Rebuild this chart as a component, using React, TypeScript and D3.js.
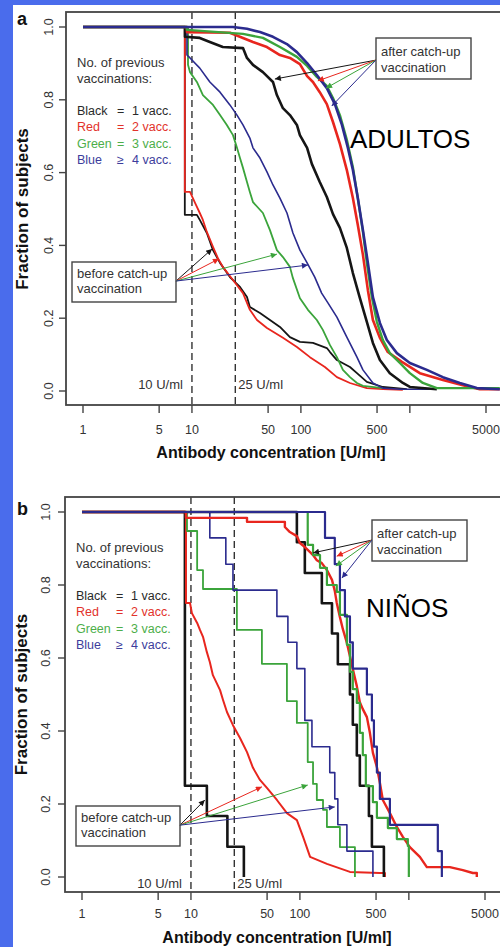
import { useEffect, useRef } from 'react'
import * as d3 from 'd3'

type Pt = [number, number]

// ---------- panel a (ADULTOS): [antibody concentration U/ml, fraction of subjects] ----------
const adultBlackBefore: Pt[] = [[1, 1], [8.6, 1], [8.6, 0.484], [11.1, 0.484], [11.8, 0.47], [13.7, 0.434], [15.6, 0.387], [18.1, 0.352], [22.3, 0.313], [27.6, 0.286], [32, 0.258], [34, 0.231], [42.1, 0.214], [52, 0.195], [64.2, 0.176], [79.3, 0.148], [98, 0.135], [129, 0.132], [173, 0.118], [185, 0.107], [214, 0.085], [282, 0.066], [327, 0.049], [403, 0.025], [565, 0.011], [938, 0.005]]
const adultRedBefore: Pt[] = [[1, 1], [8.6, 1], [8.6, 0.547], [9.6, 0.547], [10.7, 0.516], [11.8, 0.489], [12.6, 0.47], [13.7, 0.437], [15.6, 0.396], [17.3, 0.365], [19.2, 0.341], [23.8, 0.305], [29.4, 0.269], [34, 0.223], [39.5, 0.195], [48.8, 0.173], [68.4, 0.146], [91.9, 0.121], [121, 0.093], [166, 0.066], [214, 0.038], [282, 0.022], [403, 0.008], [565, 0.005], [862, 0.003]]
const adultGreenBefore: Pt[] = [[1, 1], [9.2, 1], [9.2, 0.896], [9.6, 0.876], [11.1, 0.849], [12.6, 0.813], [15.6, 0.786], [18.1, 0.758], [20.9, 0.731], [23.8, 0.703], [25.9, 0.668], [27.6, 0.64], [29.4, 0.613], [32, 0.574], [34, 0.547], [36.3, 0.519], [44.8, 0.489], [52, 0.442], [60.2, 0.387], [68.4, 0.368], [79.3, 0.341], [84.5, 0.31], [98, 0.255], [116, 0.223], [140, 0.195], [159, 0.168], [185, 0.126], [214, 0.093], [243, 0.058], [282, 0.038], [327, 0.022], [371, 0.014], [565, 0.008]]
const adultBlueBefore: Pt[] = [[1, 1], [9, 1], [9, 0.923], [9.6, 0.915], [11.8, 0.887], [14.6, 0.849], [18.1, 0.821], [22.3, 0.786], [25.9, 0.758], [29.4, 0.731], [34, 0.695], [36.3, 0.668], [42.1, 0.64], [48.8, 0.602], [55.4, 0.566], [64.2, 0.53], [74.5, 0.489], [84.5, 0.434], [98, 0.387], [114, 0.352], [134, 0.313], [155, 0.269], [177, 0.242], [214, 0.203], [264, 0.148], [327, 0.093], [371, 0.058], [458, 0.022], [565, 0.008], [809, 0.005], [1525, 0.005]]

const adultBlackAfter: Pt[] = [[1, 1], [8.63, 1], [8.63, 0.973], [11.8, 0.97], [14.6, 0.959], [19.2, 0.945], [29.4, 0.942], [32, 0.915], [36.3, 0.896], [44.8, 0.876], [55.4, 0.849], [60.2, 0.813], [68.4, 0.777], [79.3, 0.758], [91.9, 0.731], [97.9, 0.703], [114, 0.668], [126, 0.624], [149, 0.574], [173, 0.533], [197, 0.486], [228, 0.448], [264, 0.393], [300, 0.324], [348, 0.255], [403, 0.19], [458, 0.132], [531, 0.085], [655, 0.049], [863, 0.022], [1000, 0.011], [1769, 0.005]]
const adultRedAfter: Pt[] = [[1, 1], [9, 1], [9, 0.986], [22.3, 0.984], [29.4, 0.97], [36.3, 0.959], [48.8, 0.945], [64.2, 0.923], [79.3, 0.915], [97.9, 0.898], [114, 0.865], [129, 0.849], [149, 0.821], [173, 0.788], [197, 0.739], [228, 0.679], [264, 0.607], [300, 0.53], [333, 0.456], [371, 0.374], [412, 0.277], [458, 0.195], [531, 0.146], [628, 0.107], [845, 0.08], [1235, 0.049], [2009, 0.03], [3064, 0.016], [4387, 0.005], [6694, 0.005]]
const adultGreenAfter: Pt[] = [[1, 1], [9, 1], [9, 0.992], [29.4, 0.981], [44.8, 0.97], [64.2, 0.945], [91.9, 0.918], [114, 0.893], [140, 0.863], [173, 0.838], [197, 0.805], [228, 0.758], [264, 0.69], [300, 0.615], [333, 0.53], [371, 0.437], [403, 0.352], [448, 0.258], [498, 0.19], [565, 0.14], [655, 0.104], [810, 0.077], [1000, 0.049], [1316, 0.022], [1769, 0.008], [6694, 0.008]]
const adultBlueAfter: Pt[] = [[1, 1], [23.8, 1], [32, 0.995], [42.1, 0.986], [55.4, 0.973], [74.4, 0.953], [91.9, 0.931], [114, 0.901], [140, 0.868], [173, 0.832], [205, 0.788], [238, 0.731], [270, 0.668], [300, 0.607], [333, 0.53], [371, 0.442], [412, 0.352], [458, 0.258], [531, 0.187], [615, 0.14], [760, 0.104], [1000, 0.077], [1432, 0.058], [2009, 0.038], [2876, 0.022], [4119, 0.008], [6694, 0.005]]

// ---------- panel b (NIÑOS) ----------
const kidBlackBefore: Pt[] = [[1, 1], [8.8, 0.25], [14, 0.167], [21.6, 0.083], [30.6, 0]]
const kidRedBefore: Pt[] = [[1, 1], [9, 1], [9, 0.751], [9.8, 0.751], [10.2, 0.723], [11.4, 0.696], [12.1, 0.677], [12.9, 0.658], [14, 0.616], [14.9, 0.589], [15.9, 0.553], [18.5, 0.512], [19.7, 0.485], [21.4, 0.452], [24.3, 0.416], [28.2, 0.381], [32.7, 0.342], [37.1, 0.299], [43, 0.266], [49.8, 0.244], [61.5, 0.211], [76, 0.175], [93.8, 0.156], [107, 0.11], [124, 0.055], [177, 0.036], [288, 0.014], [542, 0.011], [603, 0.011], [603, 0]]
const kidGreenBefore: Pt[] = [[1, 1], [9.2, 0.948], [11.4, 0.841], [12.9, 0.789], [26.4, 0.677], [44.8, 0.584], [76, 0.482], [93.8, 0.422], [118, 0.315], [132, 0.255], [143, 0.211], [163, 0.184], [177, 0.137], [233, 0.082], [320, 0]]
const kidBlueBefore: Pt[] = [[1, 1], [14.9, 0.929], [20.9, 0.857], [24.3, 0.786], [61.5, 0.714], [77.6, 0.643], [93.8, 0.571], [111, 0.429], [129, 0.357], [188, 0.286], [209, 0.214], [223, 0.143], [270, 0.071], [468, 0]]

const kidBlackAfter: Pt[] = [[1, 1], [93.8, 0.917], [111, 0.833], [159, 0.75], [197, 0.667], [223, 0.583], [288, 0.5], [306, 0.417], [333, 0.333], [355, 0.25], [430, 0.167], [458, 0.083], [590, 0]]
const kidRedAfter: Pt[] = [[1, 1], [9, 1], [9, 0.984], [32.7, 0.984], [32.7, 0.973], [72.8, 0.973], [72.8, 0.959], [80.9, 0.945], [93.8, 0.934], [100, 0.915], [111, 0.904], [124, 0.89], [132, 0.882], [143, 0.868], [159, 0.86], [177, 0.841], [197, 0.814], [209, 0.784], [218, 0.751], [233, 0.712], [248, 0.679], [270, 0.641], [288, 0.605], [306, 0.57], [333, 0.523], [355, 0.479], [378, 0.46], [412, 0.438], [439, 0.395], [468, 0.34], [509, 0.301], [542, 0.258], [577, 0.211], [670, 0.175], [776, 0.137], [881, 0.11], [1021, 0.082], [1262, 0.055], [1463, 0.027], [2377, 0.027], [3128, 0.019], [3865, 0.011], [4205, 0.011], [4205, 0]]
const kidGreenAfter: Pt[] = [[1, 1], [118, 0.91], [132, 0.882], [153, 0.847], [177, 0.8], [218, 0.781], [233, 0.718], [270, 0.636], [288, 0.562], [306, 0.515], [333, 0.477], [355, 0.395], [378, 0.334], [403, 0.249], [468, 0.205], [509, 0.162], [642, 0.134], [776, 0.104], [979, 0.085], [1000, 0]]
const kidBlueAfter: Pt[] = [[1, 1], [170, 0.929], [209, 0.857], [233, 0.786], [259, 0.714], [288, 0.643], [306, 0.571], [412, 0.5], [458, 0.429], [478, 0.357], [509, 0.286], [542, 0.214], [670, 0.143], [1845, 0.071], [2009, 0]]

// axes
const xTicks = [1, 5, 10, 50, 100, 500, 1000, 5000]
const xTickLabels = ['1', '5', '10', '50', '100', '500', '', '5000']
const yTicks = [0, 0.2, 0.4, 0.6, 0.8, 1.0]
const cutoffs = [10, 25]
const cutoffLabels = ['10 U/ml', '25 U/ml']

// legend
const groupNames = ['Black', 'Red', 'Green', 'Blue']
const groupSigns = ['=', '=', '=', '≥']
const groupVacc = ['1 vacc.', '2 vacc.', '3 vacc.', '4 vacc.']

// annotation arrows: origin and heads (black, red, green, blue), data units
const adultAfterFrom: Pt = [488, 0.909]
const adultAfterTo: Pt[] = [[57.7, 0.857], [143, 0.852], [170, 0.832], [192, 0.783]]
const adultBeforeFrom: Pt = [7.13, 0.302]
const adultBeforeTo: Pt[] = [[15.3, 0.39], [17.7, 0.363], [60.2, 0.376], [116, 0.346]]
const kidAfterFrom: Pt = [458, 0.923]
const kidAfterTo: Pt[] = [[132, 0.888], [218, 0.879], [214, 0.852], [243, 0.819]]
const kidBeforeFrom: Pt = [7.93, 0.142]
const kidBeforeTo: Pt[] = [[13.4, 0.211], [44.8, 0.247], [118, 0.252], [209, 0.192]]

const W = 500
const H = 947
const FONT = '"Liberation Sans", Arial, Helvetica, sans-serif'
const COLORS: Record<string, string> = { black: '#151515', red: '#e8261e', green: '#3ba43b', blue: '#2b2b8e' }
const LEGEND_COLORS = ['#2a2a2a', '#e2322b', '#4dae4a', '#3d3d9c']
const ORDER = ['black', 'red', 'green', 'blue']

type Series = { data: Pt[]; color: string; width: number; step: boolean }

const adultSeries: Series[] = [
  { data: adultBlackBefore, color: 'black', width: 1.8, step: false },
  { data: adultRedBefore, color: 'red', width: 1.8, step: false },
  { data: adultGreenBefore, color: 'green', width: 1.8, step: false },
  { data: adultBlueBefore, color: 'blue', width: 1.6, step: false },
  { data: adultBlackAfter, color: 'black', width: 2.6, step: false },
  { data: adultRedAfter, color: 'red', width: 2.6, step: false },
  { data: adultGreenAfter, color: 'green', width: 2.4, step: false },
  { data: adultBlueAfter, color: 'blue', width: 2.6, step: false },
]

const kidSeries: Series[] = [
  { data: kidBlackBefore, color: 'black', width: 2.6, step: true },
  { data: kidRedBefore, color: 'red', width: 2, step: false },
  { data: kidGreenBefore, color: 'green', width: 1.8, step: true },
  { data: kidBlueBefore, color: 'blue', width: 1.6, step: true },
  { data: kidBlackAfter, color: 'black', width: 2.6, step: true },
  { data: kidRedAfter, color: 'red', width: 2.4, step: false },
  { data: kidGreenAfter, color: 'green', width: 2.2, step: true },
  { data: kidBlueAfter, color: 'blue', width: 2.2, step: true },
]

const layout = {
  a: {
    id: 'a', boxL: 66, boxT: 12, boxB: 405, x1: 83, x5000: 486, yZero: 391, yOne: 27,
    yLabX: 53, yTitleX: 28, tickLabelY: 434, titleX: 271, titleY: 458, letterY: 25,
    big: 'ADULTOS', bigX: 350, bigY: 148, cutLabelY: 389,
    afterBox: [376, 38, 95, 41], beforeBox: [72, 262, 104, 40], legendX: 77,
    series: adultSeries, afterFrom: adultAfterFrom, afterTo: adultAfterTo,
    beforeFrom: adultBeforeFrom, beforeTo: adultBeforeTo,
  },
  b: {
    id: 'b', boxL: 65, boxT: 497, boxB: 892, x1: 82, x5000: 485, yZero: 877, yOne: 512,
    yLabX: 50, yTitleX: 27, tickLabelY: 918, titleX: 277, titleY: 943, letterY: 515,
    big: 'NIÑOS', bigX: 366, bigY: 617, cutLabelY: 888,
    afterBox: [372, 520, 95, 41], beforeBox: [76, 806, 104, 40], legendX: 76,
    series: kidSeries, afterFrom: kidAfterFrom, afterTo: kidAfterTo,
    beforeFrom: kidBeforeFrom, beforeTo: kidBeforeTo,
  },
}

type Panel = typeof layout.a

function drawPanel(svg: d3.Selection<SVGSVGElement, unknown, null, undefined>, p: Panel) {
  const x = d3.scaleLog().domain([1, 5000]).range([p.x1, p.x5000])
  const y = d3.scaleLinear().domain([0, 1]).range([p.yZero, p.yOne])
  const g = svg.append('g').attr('font-family', FONT)

  svg.select('defs').append('clipPath').attr('id', `clip-${p.id}`)
    .append('rect').attr('x', p.boxL).attr('y', p.boxT)
    .attr('width', W - p.boxL + 30).attr('height', p.boxB - p.boxT)

  // cut-off lines
  cutoffs.forEach((c, i) => {
    g.append('line')
      .attr('x1', x(c)).attr('x2', x(c)).attr('y1', p.boxT).attr('y2', p.boxB)
      .attr('stroke', '#333').attr('stroke-width', 1.4).attr('stroke-dasharray', '7,4')
    g.append('text')
      .attr('x', i === 0 ? x(c) - 9 : x(c) + 3).attr('y', p.cutLabelY)
      .attr('text-anchor', i === 0 ? 'end' : 'start')
      .attr('font-size', 13).attr('fill', '#333')
      .text(cutoffLabels[i])
  })

  // curves
  const plot = g.append('g').attr('clip-path', `url(#clip-${p.id})`)
  p.series.forEach(s => {
    const line = d3.line<Pt>()
      .x(d => x(d[0]))
      .y(d => y(d[1]))
      .curve(s.step ? d3.curveStepAfter : d3.curveLinear)
    plot.append('path')
      .attr('d', line(s.data))
      .attr('fill', 'none')
      .attr('stroke', COLORS[s.color])
      .attr('stroke-width', s.width)
      .attr('stroke-linejoin', 'round')
  })

  // frame
  g.append('rect')
    .attr('x', p.boxL).attr('y', p.boxT)
    .attr('width', W - p.boxL + 20).attr('height', p.boxB - p.boxT)
    .attr('fill', 'none').attr('stroke', '#444').attr('stroke-width', 1.8)

  // y axis
  yTicks.forEach(t => {
    g.append('line')
      .attr('x1', p.boxL - 7).attr('x2', p.boxL).attr('y1', y(t)).attr('y2', y(t))
      .attr('stroke', '#444').attr('stroke-width', 1.4)
    g.append('text')
      .attr('transform', `translate(${p.yLabX},${y(t)}) rotate(-90)`)
      .attr('text-anchor', 'middle').attr('font-size', 12.5).attr('fill', '#333')
      .text(t.toFixed(1))
  })
  g.append('text')
    .attr('transform', `translate(${p.yTitleX},${(p.yZero + p.yOne) / 2}) rotate(-90)`)
    .attr('text-anchor', 'middle').attr('font-size', 17).attr('font-weight', 'bold').attr('fill', '#111')
    .text('Fraction of subjects')

  // x axis
  xTicks.forEach((t, i) => {
    g.append('line')
      .attr('x1', x(t)).attr('x2', x(t)).attr('y1', p.boxB).attr('y2', p.boxB + 8)
      .attr('stroke', '#444').attr('stroke-width', 1.4)
    g.append('text')
      .attr('x', x(t)).attr('y', p.tickLabelY)
      .attr('text-anchor', 'middle').attr('font-size', 12.5).attr('fill', '#333')
      .text(xTickLabels[i])
  })
  g.append('text')
    .attr('x', p.titleX).attr('y', p.titleY)
    .attr('text-anchor', 'middle').attr('font-size', 16).attr('font-weight', 'bold').attr('fill', '#111')
    .text('Antibody concentration [U/ml]')

  // panel letter
  g.append('text')
    .attr('x', 17).attr('y', p.letterY)
    .attr('font-size', 18).attr('font-weight', 'bold').attr('fill', '#111')
    .text(p.id)

  // legend
  const top = p.boxT
  g.append('text').attr('x', p.legendX).attr('y', top + 55).attr('font-size', 13).attr('fill', '#333').text('No. of previous')
  g.append('text').attr('x', p.legendX).attr('y', top + 71).attr('font-size', 13).attr('fill', '#333').text('vaccinations:')
  groupNames.forEach((n, i) => {
    const ly = top + 103 + i * 16.4
    const row = g.append('g').attr('font-size', 12.5).attr('fill', LEGEND_COLORS[i])
    row.append('text').attr('x', p.legendX).attr('y', ly).text(n)
    row.append('text').attr('x', p.legendX + 40).attr('y', ly).text(groupSigns[i])
    row.append('text').attr('x', p.legendX + 55).attr('y', ly).text(groupVacc[i])
  })

  // annotation boxes
  const note = (b: number[], lines: string[], off: number[]) => {
    g.append('rect')
      .attr('x', b[0]).attr('y', b[1]).attr('width', b[2]).attr('height', b[3])
      .attr('fill', '#fff').attr('stroke', '#444').attr('stroke-width', 1.4)
    lines.forEach((l, i) => {
      g.append('text')
        .attr('x', b[0] + 5).attr('y', b[1] + off[i])
        .attr('font-size', 13).attr('fill', '#333').text(l)
    })
  }
  note(p.afterBox, ['after catch-up', 'vaccination'], [18, 34])
  note(p.beforeBox, ['before catch-up', 'vaccination'], [16, 31])

  // arrows
  const arrows = (from: Pt, to: Pt[]) => {
    to.forEach((t, i) => {
      g.append('line')
        .attr('x1', x(from[0])).attr('y1', y(from[1]))
        .attr('x2', x(t[0])).attr('y2', y(t[1]))
        .attr('stroke', COLORS[ORDER[i]]).attr('stroke-width', 1)
        .attr('marker-end', `url(#arr-${ORDER[i]})`)
    })
  }
  arrows(p.afterFrom, p.afterTo)
  arrows(p.beforeFrom, p.beforeTo)

  // group label
  g.append('text')
    .attr('x', p.bigX).attr('y', p.bigY)
    .attr('font-size', 26).attr('fill', '#000')
    .text(p.big)
}

export default function App() {
  const svgRef = useRef<SVGSVGElement>(null)

  useEffect(() => {
    if (!svgRef.current) return
    const svg = d3.select(svgRef.current)
    svg.selectAll('*').remove()

    // slide background
    svg.append('rect').attr('width', W).attr('height', H).attr('fill', '#4a6cec')
    svg.append('rect').attr('x', 13).attr('y', 5).attr('width', W - 13).attr('height', H - 5).attr('fill', '#fff')

    const defs = svg.append('defs')
    ORDER.forEach(k => {
      defs.append('marker')
        .attr('id', `arr-${k}`)
        .attr('viewBox', '0 0 10 10')
        .attr('refX', 10).attr('refY', 5)
        .attr('markerWidth', 9).attr('markerHeight', 6)
        .attr('markerUnits', 'userSpaceOnUse')
        .attr('orient', 'auto')
        .append('path').attr('d', 'M0,0L10,5L0,10Z').attr('fill', COLORS[k])
    })

    drawPanel(svg, layout.a)
    drawPanel(svg, layout.b)
  }, [])

  return (
    <svg
      ref={svgRef}
      width={W}
      height={H}
      style={{ position: 'absolute', left: 0, top: 0, display: 'block' }}
    />
  )
}
